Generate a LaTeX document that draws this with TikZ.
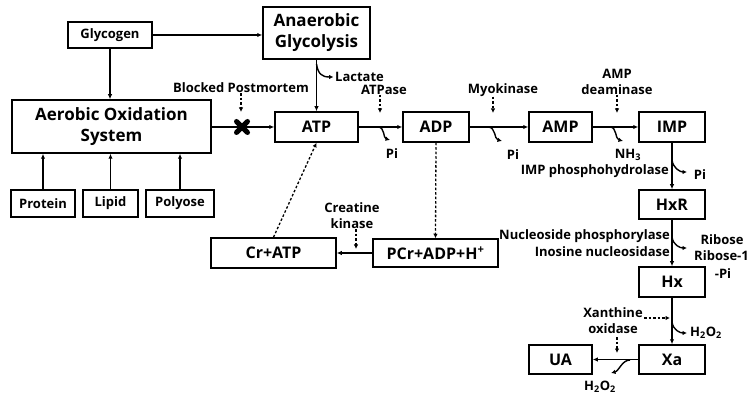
\documentclass[tikz,border=0pt]{standalone}
\usepackage{fontspec}
\setmainfont{Open Sans}
\usetikzlibrary{arrows.meta,calc}
\tikzset{
 box/.style={draw, line width=1.5pt, inner sep=0pt, font=\bfseries\fontsize{16}{18}\selectfont},
 bigbox/.style={box, align=center, font=\bfseries\fontsize{17}{21}\selectfont},
 smallbox/.style={box, font=\bfseries\fontsize{13}{15}\selectfont},
 lab/.style={inner sep=0pt, align=center, font=\bfseries\fontsize{13}{16}\selectfont},
 conn/.style={line width=1.4pt, -{Latex[length=5pt,width=4.5pt]}},
 enz/.style={line width=1.3pt, dash pattern=on 2.5pt off 2pt, -{Latex[length=4.5pt,width=4.5pt]}},
 side/.style={line width=1.4pt, -{Latex[length=4.5pt,width=4.5pt]}},
}
\begin{document}
\begin{tikzpicture}[x=1pt,y=-1pt]
\useasboundingbox (0,0) rectangle (750,398);
% boxes
\node[smallbox, minimum width=84pt, minimum height=26pt] (gly) at (110,35) {Glycogen};
\node[bigbox, minimum width=107pt, minimum height=52pt] (anae) at (316.5,33) {Anaerobic\\Glycolysis};
\node[bigbox, minimum width=199pt, minimum height=53pt] (aer) at (111.5,126.5) {Aerobic Oxidation\\System};
\node[smallbox, minimum width=64pt, minimum height=27pt] (prot) at (43,203.5) {Protein};
\node[smallbox, minimum width=55pt, minimum height=27pt] (lip) at (110.5,203.5) {Lipid};
\node[smallbox, minimum width=68pt, minimum height=27pt] (poly) at (180,203.5) {Polyose};
\node[box, minimum width=83pt, minimum height=30pt] (atp) at (316.5,127) {ATP};
\node[box, minimum width=66pt, minimum height=30pt] (adp) at (436,127) {ADP};
\node[box, minimum width=63pt, minimum height=30pt] (amp) at (560.5,127) {AMP};
\node[box, minimum width=66pt, minimum height=30pt] (imp) at (672,127) {IMP};
\node[box, minimum width=66pt, minimum height=29pt] (hxr) at (672,204.5) {HxR};
\node[box, minimum width=66pt, minimum height=30pt] (hx) at (672,282) {Hx};
\node[box, minimum width=66pt, minimum height=29pt] (xa) at (672,359.5) {Xa};
\node[box, minimum width=63pt, minimum height=29pt] (ua) at (560.5,359.5) {UA};
\node[box, minimum width=125pt, minimum height=28pt] (pcr) at (435.5,253) {PCr+ADP+H\textsuperscript{+}};
\node[box, minimum width=125pt, minimum height=30pt] (cr) at (273.5,253) {Cr+ATP};
% main connectors
\draw[conn] (gly.east) -- (gly.east -| anae.west);
\draw[conn] (gly.south) -- (gly.south |- aer.north);
\draw[conn] (anae.south) -- (atp.north);
\draw[conn] (aer.east |- atp.center) -- (atp.west);
\draw[conn] (prot.north) -- (prot.north |- aer.south);
\draw[conn] (lip.north) -- (lip.north |- aer.south);
\draw[conn] (poly.north) -- (poly.north |- aer.south);
\draw[conn] (atp) -- (adp);
\draw[conn] (adp) -- (amp);
\draw[conn] (amp) -- (imp);
\draw[conn] (imp) -- (hxr);
\draw[conn] (hxr) -- (hx);
\draw[conn] (hx) -- (xa);
\draw[conn] (xa) -- (ua);
\draw[conn] (pcr) -- (cr);
\draw[enz] (adp.south) -- (pcr.north);
\draw[enz] (cr.north) -- (atp.south);
% blocked mark
\draw[line width=5pt, line cap=round] (236.5,121.5) -- (247.5,132.5) (236.5,132.5) -- (247.5,121.5);
% labels and enzyme arrows
\node[lab] (bp) at (241,88) {Blocked Postmortem};
\coordinate (bpT) at (241,112);
\draw[enz] (bp.south -| bpT) -- (bpT);
\node[lab, anchor=west] (lac) at (335,77) {Lactate};
\coordinate (lacS) at (316.5,64);
\draw[side] (lacS) .. controls (318,74) and (322,77) .. ([xshift=-1.5pt]lac.west);
\node[lab] (atpase) at (384,90) {ATPase};
\coordinate (atpaseT) at (380,113);
\draw[enz] (atpase.south -| atpaseT) -- (atpaseT);
\coordinate (b1) at (378,127);
\coordinate (b1e) at (390,140);
\draw[side] (b1) .. controls (385,127) and (383,138) .. (b1e);
\node[lab] (pi1) at (392,154) {Pi};
\node[lab] (myo) at (503,90) {Myokinase};
\coordinate (myoT) at (493,113);
\draw[enz] (myo.south -| myoT) -- (myoT);
\coordinate (b2) at (488,127);
\coordinate (b2e) at (502,141);
\draw[side] (b2) .. controls (496,127) and (494,139) .. (b2e);
\node[lab] (pi2) at (513,155) {Pi};
\node[lab] (ampd) at (617,82) {AMP\\deaminase};
\coordinate (ampdT) at (617,113);
\draw[enz] (ampd.south -| ampdT) -- (ampdT);
\coordinate (b3) at (610,127);
\coordinate (b3e) at (623,141);
\draw[side] (b3) .. controls (617,127) and (615,139) .. (b3e);
\node[lab] (nh3) at (628,155) {NH\textsubscript{3}};
\node[lab, anchor=east] (ipp) at (669,171) {IMP phosphohydrolase};
\coordinate (b4) at (672,160);
\coordinate (b4e) at (687,172);
\draw[side] (b4) .. controls (673,168) and (680,172) .. (b4e);
\node[lab] (pi3) at (700,175) {Pi};
\node[lab, anchor=east] (nuc) at (670,236) {Nucleoside phosphorylase};
\node[lab, anchor=east] (ino) at (670,252) {Inosine nucleosidase};
\coordinate (b5) at (672,237);
\coordinate (b5e) at (687,248);
\draw[side] (b5) .. controls (673,245) and (680,248) .. (b5e);
\node[lab] (rib) at (722,240) {Ribose};
\node[lab, anchor=east] (rib1) at (749,256) {Ribose-1};
\node[lab] (ribpi) at (723,274) {-Pi};
\node[lab] (xo) at (613,321) {Xanthine\\oxidase};
\coordinate (xoS) at (644,318);
\coordinate (xoT) at (670,318);
\draw[enz] (xoS) -- (xoT);
\coordinate (xoS2) at (617,337);
\coordinate (xoT2) at (617,353);
\draw[enz] (xoS2) -- (xoT2);
\coordinate (b6) at (672,322);
\coordinate (b6e) at (687,333);
\draw[side] (b6) .. controls (673,330) and (680,333) .. (b6e);
\node[lab] (h2o2a) at (706,333) {H\textsubscript{2}O\textsubscript{2}};
\coordinate (b7) at (630,360);
\coordinate (b7e) at (611,373);
\draw[side] (b7) .. controls (622,360) and (619,371) .. (b7e);
\node[lab] (h2o2b) at (600,387) {H\textsubscript{2}O\textsubscript{2}};
\node[lab] (ck) at (352,216) {Creatine\\kinase};
\coordinate (ckT) at (356,249);
\draw[enz] (ck.south -| ckT) -- (ckT);
\end{tikzpicture}
\end{document}
